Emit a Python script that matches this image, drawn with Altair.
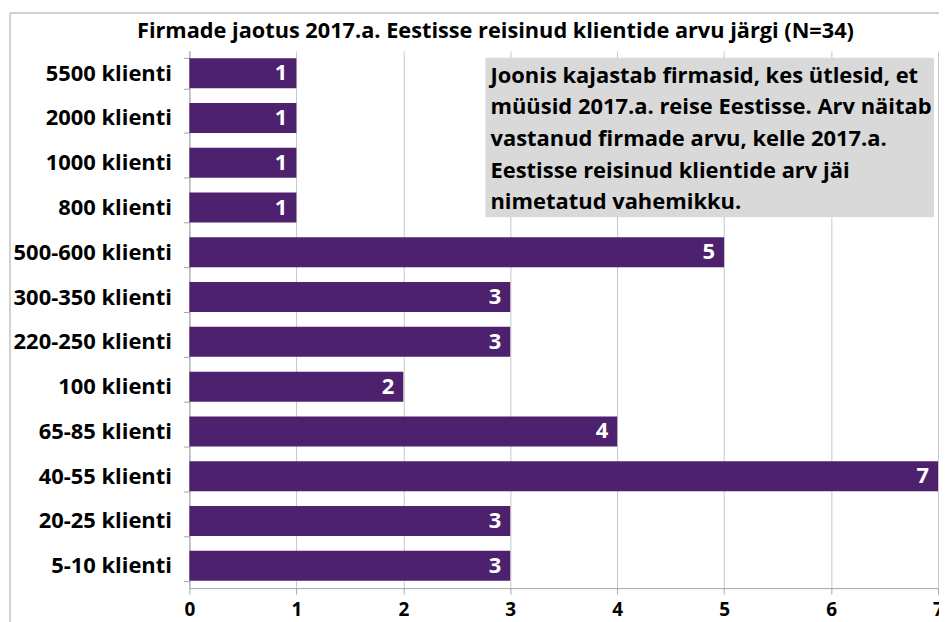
import altair as alt
import pandas as pd

categories = ["5500 klienti", "2000 klienti", "1000 klienti", "800 klienti",
              "500-600 klienti", "300-350 klienti", "220-250 klienti", "100 klienti",
              "65-85 klienti", "40-55 klienti", "20-25 klienti", "5-10 klienti"]
counts = [1, 1, 1, 1, 5, 3, 3, 2, 4, 7, 3, 3]
x_ticks = [0, 1, 2, 3, 4, 5, 6, 7]
title_text = "Firmade jaotus 2017.a. Eestisse reisinud klientide arvu järgi (N=34)"
note_lines = ["Joonis kajastab firmasid, kes ütlesid, et",
              "müüsid 2017.a. reise Eestisse. Arv näitab",
              "vastanud firmade arvu, kelle 2017.a.",
              "Eestisse reisinud klientide arv jäi",
              "nimetatud vahemikku."]

FONT = "Open Sans"
PURPLE = "#4d216d"

df = pd.DataFrame({"cat": categories, "n": counts})
one = pd.DataFrame({"k": [0]})

xscale = alt.Scale(domain=[0, 7])
yscale = alt.Scale(domain=categories, paddingInner=0.33, paddingOuter=0.165)

base = alt.Chart(df).encode(
    y=alt.Y("cat:N", scale=yscale, sort=categories,
            axis=alt.Axis(title=None, tickBand="extent", ticks=True, tickSize=6,
                          tickColor="#a6a6a6", domainColor="#a6a6a6", grid=False,
                          labelFont=FONT, labelFontSize=22, labelFontWeight="bold",
                          labelColor="#000000", labelPadding=12, labelLimit=300)),
)

bars = base.mark_bar(color=PURPLE).encode(
    x=alt.X("n:Q", scale=xscale,
            axis=alt.Axis(title=None, values=x_ticks, format="d", grid=True,
                          gridColor="#c8c8c8", tickColor="#a6a6a6", domainColor="#a6a6a6",
                          tickSize=6, labelFont=FONT, labelFontSize=19,
                          labelFontWeight="bold", labelColor="#000000", labelPadding=6,
                          labelFlush=False)),
)

labels = base.mark_text(align="right", baseline="middle", dx=-9, color="white",
                        font=FONT, fontSize=22, fontWeight="bold").encode(
    x=alt.X("n:Q", scale=xscale), text="n:Q")

frame = alt.Chart(one).mark_rect(fill=None, stroke="#a6a6a6", strokeWidth=1).encode(
    x=alt.value(-180), x2=alt.value(800), y=alt.value(-38), y2=alt.value(700))

title = alt.Chart(one).mark_text(align="center", baseline="middle", font=FONT,
                                 fontSize=21.8, fontWeight="bold", color="#000000").encode(
    x=alt.value(307), y=alt.value(-20), text=alt.value(title_text))

note_box = alt.Chart(one).mark_rect(fill="#d9d9d9").encode(
    x=alt.value(297), x2=alt.value(747), y=alt.value(7), y2=alt.value(167))

note_text = alt.Chart(one).mark_text(align="left", baseline="middle", font=FONT,
                                     fontSize=22, fontWeight="bold", color="#000000",
                                     lineHeight=31.7).encode(
    x=alt.value(302), y=alt.value(25), text=alt.value(note_lines))

chart = alt.layer(frame, title, bars, labels, note_box, note_text).properties(
    width=751, height=539,
    autosize="none",
    padding={"left": 182, "top": 42, "right": 1, "bottom": 33},
).configure_view(stroke=None)

chart.save("out.html", embed_options={"renderer": "svg", "actions": False})
